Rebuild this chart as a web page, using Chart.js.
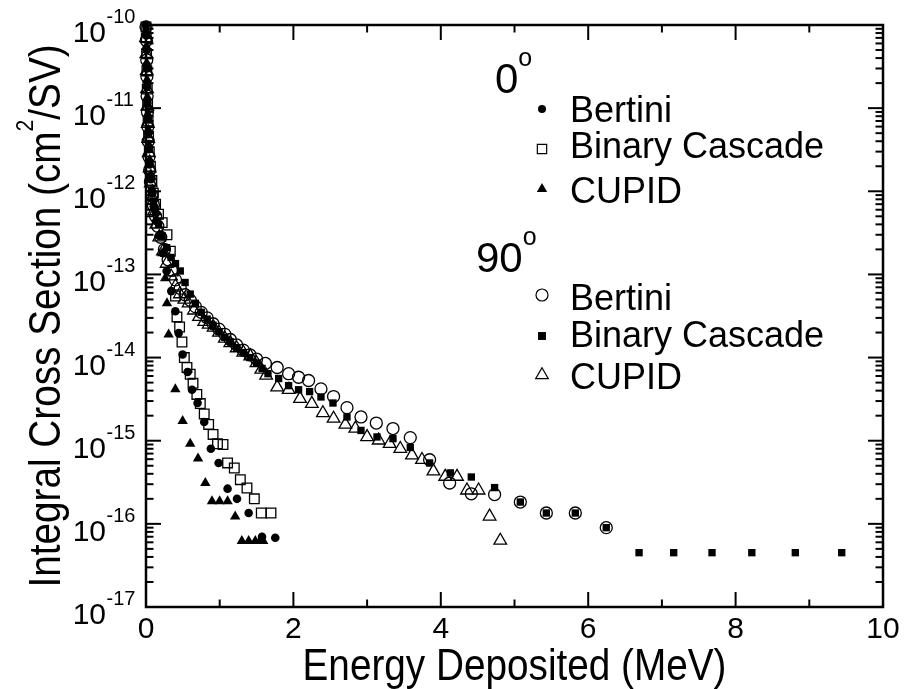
<!DOCTYPE html>
<html>
<head>
<meta charset="utf-8">
<script src="https://cdn.jsdelivr.net/npm/chart.js@4/dist/chart.umd.min.js"></script>
<style>
  html, body { margin: 0; padding: 0; background: #fff; }
</style>
</head>
<body>
<canvas id="myChart" width="906" height="689"></canvas>
<script>
// axis ticks
const xTickValues = [0, 2, 4, 6, 8, 10];
const xTickLabels = ['0', '2', '4', '6', '8', '10'];
const xMinorValues = [1, 3, 5, 7, 9];
const yTickExponents = [-10, -11, -12, -13, -14, -15, -16, -17];

// legend text
const angleLabels = ['0', '90'];
const modelNames = ['Bertini', 'Binary Cascade', 'CUPID'];

// 0 deg  [energy (MeV), cross section]
const bertini0 = [
  [0.0, 1.0e-10], [0.004, 7.5e-11], [0.008, 5.0e-11], [0.012, 3.0e-11], [0.016, 1.8e-11],
  [0.02, 1.15e-11], [0.025, 7.5e-12], [0.03, 5.0e-12], [0.04, 3.2e-12], [0.05, 2.1e-12],
  [0.065, 1.4e-12], [0.085, 9.5e-13], [0.11, 6.5e-13], [0.14, 4.4e-13], [0.18, 2.9e-13],
  [0.23, 1.8e-13], [0.28, 1.1e-13], [0.343, 6.3e-14], [0.398, 3.6e-14], [0.443, 1.97e-14],
  [0.497, 1.09e-14], [0.565, 6.7e-15], [0.624, 4.1e-15], [0.70, 2.84e-15], [0.79, 1.68e-15],
  [0.88, 8.0e-16], [0.985, 5.4e-16], [1.107, 2.65e-16], [1.235, 2.0e-16], [1.393, 1.35e-16],
  [1.574, 7.0e-17], [1.754, 6.8e-17]
];
const binary0 = [
  [0.0, 9.5e-11], [0.004, 7.0e-11], [0.008, 4.5e-11], [0.012, 2.8e-11], [0.017, 1.7e-11],
  [0.022, 1.1e-11], [0.028, 7.0e-12], [0.035, 4.6e-12], [0.045, 3.0e-12], [0.06, 2.0e-12],
  [0.08, 1.35e-12], [0.10, 9.5e-13], [0.13, 7.0e-13], [0.17, 5.3e-13], [0.22, 4.2e-13],
  [0.285, 3.0e-13], [0.33, 1.9e-13], [0.37, 1.1e-13], [0.40, 5.5e-14], [0.42, 3.08e-14],
  [0.456, 2.33e-14], [0.488, 1.54e-14], [0.52, 1.0e-14], [0.556, 7.6e-15], [0.60, 6.3e-15],
  [0.638, 4.9e-15], [0.69, 3.6e-15], [0.737, 2.8e-15], [0.79, 2.1e-15], [0.85, 1.57e-15],
  [0.91, 1.19e-15], [0.97, 9.2e-16], [1.045, 9.0e-16], [1.107, 5.4e-16], [1.198, 4.7e-16],
  [1.28, 3.4e-16], [1.37, 2.7e-16], [1.47, 2.0e-16], [1.564, 1.35e-16], [1.696, 1.35e-16]
];
const cupid0 = [
  [0.0, 8.0e-11], [0.005, 5.5e-11], [0.01, 3.5e-11], [0.014, 2.2e-11], [0.019, 1.35e-11],
  [0.025, 8.5e-12], [0.032, 5.5e-12], [0.04, 3.6e-12], [0.05, 2.4e-12], [0.065, 1.6e-12],
  [0.085, 1.05e-12], [0.11, 7.0e-13], [0.14, 4.6e-13], [0.18, 3.0e-13], [0.22, 1.8e-13],
  [0.26, 9.0e-14], [0.285, 4.5e-14], [0.307, 1.9e-14], [0.398, 4.15e-15], [0.497, 1.73e-15],
  [0.60, 9.2e-16], [0.706, 6.1e-16], [0.805, 3.1e-16], [0.895, 1.87e-16], [0.999, 1.87e-16],
  [1.107, 1.87e-16], [1.21, 1.23e-16], [1.30, 6.2e-17], [1.393, 6.2e-17], [1.483, 6.2e-17],
  [1.545, 6.2e-17], [1.59, 6.2e-17]
];

// 90 deg
const bertini90 = [
  [0.0, 9.5e-11], [0.005, 6.5e-11], [0.01, 3.8e-11], [0.012, 2.4e-11], [0.015, 1.4e-11],
  [0.02, 9.0e-12], [0.025, 6.0e-12], [0.03, 4.0e-12], [0.04, 2.6e-12], [0.05, 1.8e-12],
  [0.06, 1.3e-12], [0.08, 9.0e-13], [0.10, 6.8e-13], [0.13, 5.0e-13], [0.16, 3.8e-13],
  [0.20, 2.8e-13], [0.25, 2.0e-13], [0.30, 1.5e-13], [0.35, 1.12e-13], [0.40, 8.6e-14],
  [0.465, 6.8e-14], [0.53, 5.7e-14], [0.60, 4.9e-14], [0.67, 4.1e-14], [0.75, 3.5e-14],
  [0.83, 3.0e-14], [0.91, 2.55e-14], [0.99, 2.2e-14], [1.07, 1.9e-14], [1.144, 1.65e-14],
  [1.23, 1.42e-14], [1.32, 1.23e-14], [1.41, 1.08e-14], [1.5, 9.6e-15], [1.62, 8.5e-15],
  [1.78, 7.6e-15], [1.935, 6.4e-15], [2.07, 5.8e-15], [2.206, 5.3e-15], [2.374, 4.2e-15],
  [2.545, 3.4e-15], [2.727, 2.5e-15], [2.917, 1.93e-15], [3.125, 1.63e-15], [3.351, 1.40e-15],
  [3.586, 1.09e-15], [3.848, 5.9e-16], [4.12, 3.1e-16], [4.414, 2.3e-16], [4.73, 2.25e-16],
  [5.079, 1.83e-16], [5.432, 1.35e-16], [5.825, 1.35e-16], [6.245, 9.0e-17]
];
const binary90 = [
  [0.0, 8.5e-11], [0.005, 5.2e-11], [0.01, 3.2e-11], [0.013, 1.9e-11], [0.017, 1.15e-11],
  [0.022, 7.2e-12], [0.028, 4.8e-12], [0.035, 3.2e-12], [0.045, 2.2e-12], [0.06, 1.5e-12],
  [0.08, 1.0e-12], [0.10, 7.5e-13], [0.13, 5.5e-13], [0.17, 4.0e-13], [0.22, 2.9e-13],
  [0.28, 2.1e-13], [0.34, 1.6e-13], [0.40, 1.35e-13], [0.465, 1.1e-13], [0.53, 8.0e-14],
  [0.60, 5.8e-14], [0.67, 4.5e-14], [0.75, 3.5e-14], [0.83, 2.9e-14], [0.91, 2.45e-14],
  [0.99, 2.05e-14], [1.07, 1.75e-14], [1.144, 1.55e-14], [1.23, 1.32e-14], [1.32, 1.15e-14],
  [1.41, 1.0e-14], [1.5, 8.6e-15], [1.575, 7.4e-15], [1.655, 6.4e-15], [1.80, 5.6e-15],
  [1.935, 4.6e-15], [2.07, 4.1e-15], [2.22, 3.9e-15], [2.374, 3.36e-15], [2.537, 2.84e-15],
  [2.727, 1.93e-15], [2.917, 1.33e-15], [3.134, 1.11e-15], [3.351, 1.06e-15], [3.586, 8.3e-16],
  [3.848, 5.4e-16], [4.129, 4.1e-16], [4.414, 3.66e-16], [4.73, 2.73e-16], [5.079, 1.83e-16],
  [5.432, 1.35e-16], [5.825, 1.35e-16], [6.245, 9.0e-17], [6.69, 4.5e-17], [7.16, 4.5e-17],
  [7.68, 4.5e-17], [8.22, 4.5e-17], [8.81, 4.5e-17], [9.44, 4.5e-17]
];
const cupid90 = [
  [0.0, 7.0e-11], [0.005, 4.5e-11], [0.01, 2.8e-11], [0.014, 1.7e-11], [0.018, 1.05e-11],
  [0.024, 6.5e-12], [0.03, 4.3e-12], [0.038, 2.9e-12], [0.05, 1.9e-12], [0.065, 1.25e-12],
  [0.085, 8.5e-13], [0.11, 5.8e-13], [0.14, 4.0e-13], [0.18, 2.8e-13], [0.23, 1.9e-13],
  [0.28, 1.35e-13], [0.34, 9.5e-14], [0.40, 7.2e-14], [0.46, 5.8e-14], [0.52, 5.0e-14],
  [0.578, 4.5e-14], [0.65, 3.7e-14], [0.72, 3.1e-14], [0.79, 2.7e-14], [0.85, 2.5e-14],
  [0.917, 2.3e-14], [0.99, 2.0e-14], [1.07, 1.7e-14], [1.144, 1.5e-14], [1.23, 1.3e-14],
  [1.32, 1.15e-14], [1.415, 1.04e-14], [1.5, 8.6e-15], [1.565, 7.2e-15], [1.63, 6.1e-15],
  [1.78, 4.4e-15], [1.935, 4.1e-15], [2.09, 3.2e-15], [2.25, 2.79e-15], [2.40, 2.15e-15],
  [2.545, 1.85e-15], [2.705, 1.57e-15], [2.84, 1.40e-15], [3.0, 1.11e-15], [3.157, 1.01e-15],
  [3.306, 9.2e-16], [3.45, 8.0e-16], [3.609, 6.7e-16], [3.745, 5.9e-16], [3.90, 4.3e-16],
  [4.06, 3.7e-16], [4.22, 3.7e-16], [4.355, 2.53e-16], [4.513, 2.53e-16], [4.662, 1.23e-16],
  [4.807, 6.3e-17]
];

const FONT = '"Liberation Sans", Arial, Helvetica, sans-serif';

// marker looks: style, radius in plot, radius in legend, filled
const markers = [
  { pointStyle: 'circle',   radius: 4.3, legend: 4.0, filled: true },   // 0 Bertini
  { pointStyle: 'rect',     radius: 6.8, legend: 6.6, filled: false },  // 0 Binary
  { pointStyle: 'triangle', radius: 6.0, legend: 6.0, filled: true },   // 0 CUPID
  { pointStyle: 'circle',   radius: 6.0, legend: 6.0, filled: false },  // 90 Bertini
  { pointStyle: 'rect',     radius: 5.2, legend: 5.6, filled: true },   // 90 Binary
  { pointStyle: 'triangle', radius: 7.3, legend: 7.3, filled: false }   // 90 CUPID
];
const seriesData = [bertini0, binary0, cupid0, bertini90, binary90, cupid90];

const datasets = seriesData.map((s, i) => {
  const m = markers[i];
  return {
    label: angleLabels[Math.floor(i / 3)] + ' ' + modelNames[i % 3],
    data: s.map(p => ({ x: p[0], y: p[1] })),
    showLine: false,
    clip: false,
    pointStyle: m.pointStyle,
    pointRadius: m.radius,
    pointHoverRadius: m.radius,
    pointBorderWidth: m.filled ? 0 : 1.3,
    pointBackgroundColor: m.filled ? '#000' : 'rgba(0,0,0,0)',
    pointBorderColor: '#000'
  };
});

function line(ctx, x1, y1, x2, y2) {
  ctx.beginPath();
  ctx.moveTo(x1, y1);
  ctx.lineTo(x2, y2);
  ctx.stroke();
}

// 枠と内向きの目盛り
const framePlugin = {
  id: 'frame',
  beforeDatasetsDraw(chart) {
    const { ctx, chartArea: a, scales: { x, y } } = chart;
    ctx.save();
    ctx.strokeStyle = '#000';
    ctx.lineWidth = 2;
    xTickValues.forEach(v => {
      const px = x.getPixelForValue(v);
      line(ctx, px, a.bottom, px, a.bottom - 15);
      line(ctx, px, a.top, px, a.top + 15);
    });
    xMinorValues.forEach(v => {
      const px = x.getPixelForValue(v);
      line(ctx, px, a.bottom, px, a.bottom - 7.5);
      line(ctx, px, a.top, px, a.top + 7.5);
    });
    yTickExponents.forEach(e => {
      const py = y.getPixelForValue(Math.pow(10, e));
      line(ctx, a.left, py, a.left + 15, py);
      line(ctx, a.right, py, a.right - 15, py);
    });
    for (let e = -17; e < -10; e++) {
      for (let m = 2; m <= 9; m++) {
        const py = y.getPixelForValue(m * Math.pow(10, e));
        line(ctx, a.left, py, a.left + 7.5, py);
        line(ctx, a.right, py, a.right - 7.5, py);
      }
    }
    ctx.lineWidth = 2.5;
    ctx.strokeRect(a.left, a.top, a.right - a.left, a.bottom - a.top);
    ctx.restore();
  },
  afterDraw(chart) {
    const { ctx, chartArea: a, scales: { x, y } } = chart;
    ctx.save();
    ctx.fillStyle = '#000';
    ctx.textBaseline = 'alphabetic';

    // x tick labels
    ctx.font = '30px ' + FONT;
    ctx.textAlign = 'center';
    xTickValues.forEach((v, i) => {
      ctx.fillText(xTickLabels[i], x.getPixelForValue(v), a.bottom + 31);
    });

    // y tick labels 10^n
    yTickExponents.forEach(e => {
      const py = y.getPixelForValue(Math.pow(10, e));
      ctx.font = '30px ' + FONT;
      ctx.textAlign = 'right';
      ctx.fillText('10', a.left - 40, py + 17);
      ctx.font = '20px ' + FONT;
      ctx.textAlign = 'left';
      ctx.fillText(String(e), a.left - 39.5, py - 2);
    });

    // x title (narrow, tall glyphs)
    ctx.save();
    ctx.font = '44px ' + FONT;
    ctx.textAlign = 'center';
    ctx.translate((a.left + a.right) / 2, 680);
    ctx.scale(0.88, 1);
    ctx.fillText('Energy Deposited (MeV)', 0, 0);
    ctx.restore();

    // y title (rotated, superscript 2)
    const p1 = 'Integral Cross Section (cm', p2 = '2', p3 = '/SV)';
    ctx.font = '44px ' + FONT;
    const w1 = ctx.measureText(p1).width, w3 = ctx.measureText(p3).width;
    ctx.font = '24px ' + FONT;
    const w2 = ctx.measureText(p2).width;
    const total = w1 + w2 + w3;
    ctx.translate(60, (a.top + a.bottom) / 2);
    ctx.rotate(-Math.PI / 2);
    ctx.scale(0.88, 1);
    ctx.textAlign = 'left';
    let tx = -total / 2;
    ctx.font = '44px ' + FONT;
    ctx.fillText(p1, tx, 0);
    tx += w1;
    ctx.font = '24px ' + FONT;
    ctx.fillText(p2, tx, -27);
    tx += w2;
    ctx.font = '44px ' + FONT;
    ctx.fillText(p3, tx, 0);
    ctx.restore();

    // legend
    ctx.save();
    ctx.strokeStyle = '#000';
    ctx.textBaseline = 'alphabetic';
    ctx.textAlign = 'left';
    const headers = [
      { x: 495, y: 93 },
      { x: 476, y: 272 }
    ];
    const rowBaselines = [[122, 158, 203], [310, 347, 389]];
    const rowMarkers = [[109, 149, 189], [295, 336, 375]];
    headers.forEach((h, g) => {
      ctx.fillStyle = '#000';
      ctx.font = '42px ' + FONT;
      ctx.fillText(angleLabels[g], h.x, h.y);
      const w = ctx.measureText(angleLabels[g]).width;
      ctx.font = '25px ' + FONT;
      ctx.fillText('o', h.x + w, h.y - 27);
      modelNames.forEach((name, r) => {
        ctx.fillStyle = '#000';
        ctx.font = '36px ' + FONT;
        ctx.fillText(name, 570, rowBaselines[g][r]);
        const m = markers[g * 3 + r];
        ctx.fillStyle = m.filled ? '#000' : 'rgba(0,0,0,0)';
        ctx.lineWidth = 1.2;
        Chart.helpers.drawPoint(ctx, {
          pointStyle: m.pointStyle,
          radius: m.legend,
          rotation: 0,
          borderWidth: m.filled ? 0 : 1.2
        }, 542, rowMarkers[g][r]);
      });
    });
    ctx.restore();
  }
};

new Chart(document.getElementById('myChart').getContext('2d'), {
  type: 'scatter',
  data: { datasets: datasets },
  options: {
    responsive: false,
    animation: false,
    devicePixelRatio: 1,
    layout: { padding: { left: 146, top: 25, right: 23, bottom: 82 } },
    plugins: {
      legend: { display: false },
      tooltip: { enabled: false }
    },
    scales: {
      x: { type: 'linear', min: 0, max: 10, display: false },
      y: { type: 'logarithmic', min: 1e-17, max: 1e-10, display: false }
    }
  },
  plugins: [framePlugin]
});
</script>
</body>
</html>
